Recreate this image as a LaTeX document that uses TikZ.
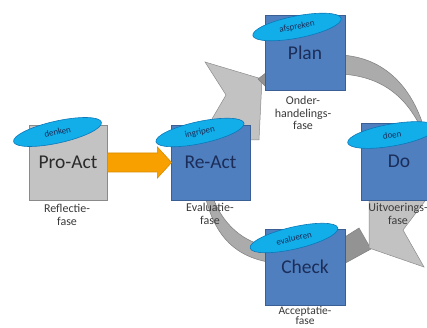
\documentclass[tikz,border=0pt]{standalone}
\usepackage{fontspec}
\setmainfont{Carlito}
\usetikzlibrary{shapes.geometric,calc}
\definecolor{boxblue}{HTML}{4F7FBF}
\definecolor{boxblueline}{HTML}{3A5F94}
\definecolor{boxgray}{HTML}{C3C3C3}
\definecolor{boxgrayline}{HTML}{8A8A8A}
\definecolor{ellfill}{HTML}{12AEEA}
\definecolor{ellline}{HTML}{0B78B8}
\definecolor{navytext}{HTML}{1B2D58}
\definecolor{darktext}{HTML}{2A2A2A}
\definecolor{labeltext}{HTML}{3A3A3A}
\definecolor{arcfill}{HTML}{ABABAB}
\definecolor{arcline}{HTML}{7E7E7E}
\definecolor{headfill}{HTML}{C2C2C2}
\definecolor{headline}{HTML}{8C8C8C}
\definecolor{bandfill}{HTML}{939393}
\definecolor{orangefill}{HTML}{F7A000}
\definecolor{orangeline}{HTML}{D98A00}
\begin{document}
\begin{tikzpicture}[x=1pt,y=-1pt,
  phase/.style={draw=boxblueline,fill=boxblue,line width=0.8pt,inner sep=0pt,
    minimum width=79pt,minimum height=76pt,text=navytext,
    font=\fontsize{19.5}{19.5}\selectfont},
  tag/.style={ellipse,draw=ellline,fill=ellfill,line width=0.6pt,inner sep=0pt,
    minimum width=90pt,minimum height=22pt,text=navytext,
    font=\fontsize{9}{9}\selectfont},
  lbl/.style={align=center,text=labeltext,font=\fontsize{12}{12.5}\selectfont},
  arcband/.style={fill=arcfill,draw=arcline,line width=0.5pt},
  headshape/.style={fill=headfill,draw=headline,line width=0.5pt},
  darkband/.style={fill=bandfill,draw=arcline,line width=0.5pt}]
\useasboundingbox (0,0) rectangle (427,328);
\fill[white] (0,0) rectangle (427,328);

% cycle arrows (drawn behind the boxes)
\path[arcband] (340,55) .. controls (385,57) and (412,88) .. (424,128)
  -- (421,128) .. controls (406,97) and (382,76) .. (340,74) -- cycle;
\path[arcband] (205,195) .. controls (213,230) and (230,255) .. (268,262)
  -- (268,246) .. controls (245,243) and (222,225) .. (212,195) -- cycle;
\path[darkband] (340,240) -- (359,228) -- (371,249) -- (340,266) -- cycle;
\path[headshape] (369,197) -- (428,197) -- (403,230) -- (424,267) -- (369,248) -- cycle;
\path[headshape] (205,62) -- (262,79) -- (259,140) -- (235,140) -- (209,124) -- (226,95) -- cycle;
\path[darkband] (258,79) -- (267,72) -- (267,88) -- cycle;

% phase boxes
\node[phase,fill=boxgray,draw=boxgrayline,text=darktext,minimum width=78pt,minimum height=75pt] (proact) at (68,162.5) {Pro-Act};
\node[phase,minimum height=75pt] (react) at (210.5,162.5) {Re-Act};
\node[phase,minimum width=80pt,minimum height=75pt] (plan) at (305,52.5) {Plan};
\node[phase,minimum width=76pt,minimum height=77pt] (do) at (399,161.5) {Do};
\node[phase,minimum width=80pt] (check) at (305,267) {Check};

% orange arrow Pro-Act -> Re-Act
\path[fill=orangefill,draw=orangeline,line width=0.6pt]
  ($(proact.east)+(0,-9.5)$) -- ($(proact.east)+(50,-9.5)$) -- ($(proact.east)+(50,-15.5)$)
  -- ($(react.west)+(1,0)$)
  -- ($(proact.east)+(50,15.5)$) -- ($(proact.east)+(50,9.5)$) -- ($(proact.east)+(0,9.5)$) -- cycle;

% tags
\node[tag,rotate=12.5] (t1) at (57.5,132) {denken};
\node[tag,rotate=12] (t2) at (200,132.5) {ingripen};
\node[tag,rotate=11] (t3) at (297,27) {afspreken};
\node[tag,rotate=10] (t4) at (392,135) {doen};
\node[tag,rotate=13] (t5) at (294,238) {evalueren};

% phase labels
\node[lbl] (l1) at (67,215) {Reflectie-\\fase};
\node[lbl] (l2) at (210,214) {Evaluatie-\\fase};
\node[lbl] (l3) at (303,113) {Onder-\\handelings-\\fase};
\node[lbl] (l4) at (398,214) {Uitvoerings-\\fase};
\node[lbl,anchor=north,inner sep=0pt,font=\fontsize{11.5}{10.5}\selectfont] (l5) at (305,306) {Acceptatie-\\fase};
\end{tikzpicture}
\end{document}
